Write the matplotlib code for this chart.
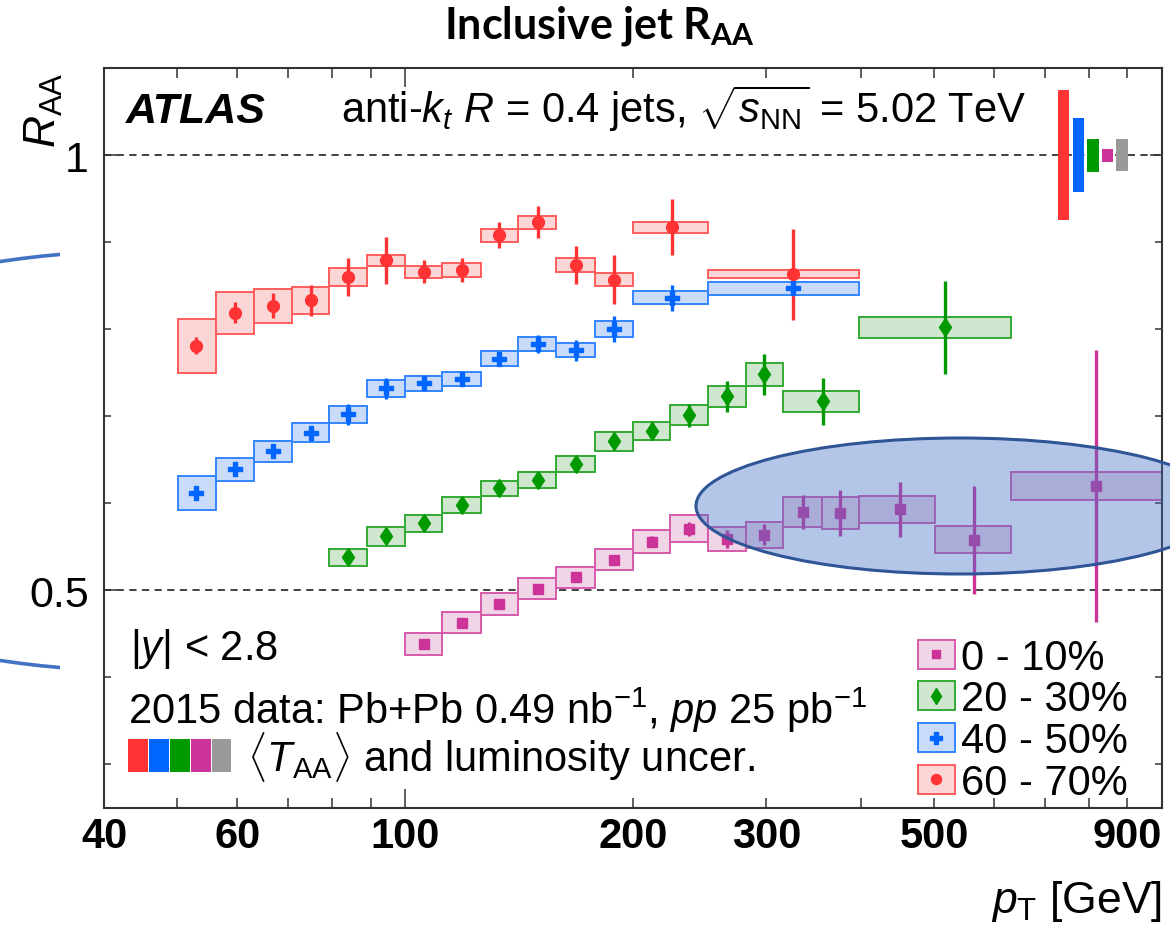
import numpy as np
import matplotlib
matplotlib.use('Agg')
import matplotlib.pyplot as plt
from matplotlib.patches import Rectangle, Ellipse, Patch
from matplotlib.lines import Line2D
from matplotlib.transforms import blended_transform_factory

plt.rcParams['font.family'] = ['Liberation Sans', 'DejaVu Sans']
plt.rcParams['mathtext.fontset'] = 'custom'
plt.rcParams['mathtext.rm'] = 'Liberation Sans'
plt.rcParams['mathtext.it'] = 'Liberation Sans:italic'
plt.rcParams['mathtext.bf'] = 'Liberation Sans:bold'

# ---- R_AA per centrality class: bin edges, marker pT, value, stat and sys (half box) ----
c0_edges = [100, 112, 126, 141, 158, 178, 200, 224, 251, 282, 316, 355, 398, 501, 631, 1000]
c0_pt = [106, 119, 133, 150, 168, 189, 212, 237, 266, 298, 335, 376, 450, 565, 817]
c0_raa = [0.438, 0.463, 0.484, 0.502, 0.515, 0.535, 0.556, 0.571, 0.559, 0.564, 0.590, 0.589, 0.593, 0.558, 0.620]
c0_stat = [0.004, 0.004, 0.004, 0.005, 0.005, 0.005, 0.006, 0.008, 0.010, 0.012, 0.019, 0.026, 0.032, 0.062, 0.156]
c0_sys = [0.0125, 0.012, 0.0125, 0.0125, 0.012, 0.012, 0.0135, 0.0155, 0.014, 0.015, 0.0175, 0.0185, 0.0155, 0.0155, 0.0165]

c20_edges = [79.4, 89.1, 100, 112, 126, 141, 158, 178, 200, 224, 251, 282, 316, 398, 631]
c20_pt = [84.1, 94.4, 106, 119, 133, 150, 168, 189, 212, 237, 266, 298, 357, 516]
c20_raa = [0.538, 0.562, 0.577, 0.598, 0.617, 0.627, 0.645, 0.671, 0.683, 0.701, 0.723, 0.748, 0.717, 0.802]
c20_stat = [0.005, 0.006, 0.006, 0.006, 0.006, 0.007, 0.007, 0.008, 0.010, 0.013, 0.018, 0.024, 0.027, 0.053]
c20_sys = [0.0095, 0.0105, 0.010, 0.009, 0.009, 0.009, 0.0095, 0.0105, 0.0105, 0.0115, 0.012, 0.0135, 0.0125, 0.0125]

c40_edges = [50.1, 56.2, 63.1, 70.8, 79.4, 89.1, 100, 112, 126, 141, 158, 178, 200, 251, 398]
c40_pt = [53.0, 59.6, 66.8, 75.0, 84.1, 94.4, 106, 119, 133, 150, 168, 189, 225, 325]
c40_raa = [0.612, 0.639, 0.660, 0.681, 0.702, 0.732, 0.738, 0.743, 0.766, 0.783, 0.776, 0.800, 0.836, 0.847]
c40_stat = [0.005, 0.006, 0.006, 0.006, 0.012, 0.012, 0.008, 0.007, 0.008, 0.010, 0.012, 0.015, 0.015, 0.005]
c40_sys = [0.0195, 0.0135, 0.012, 0.011, 0.0095, 0.0095, 0.0085, 0.008, 0.0085, 0.0075, 0.0085, 0.009, 0.0075, 0.0075]

c60_edges = [50.1, 56.2, 63.1, 70.8, 79.4, 89.1, 100, 112, 126, 141, 158, 178, 200, 251, 398]
c60_pt = [53.0, 59.6, 66.8, 75.0, 84.1, 94.4, 106, 119, 133, 150, 168, 189, 225, 325]
c60_raa = [0.781, 0.819, 0.827, 0.833, 0.860, 0.879, 0.866, 0.868, 0.908, 0.923, 0.874, 0.857, 0.917, 0.863]
c60_stat = [0.010, 0.012, 0.014, 0.018, 0.022, 0.027, 0.013, 0.014, 0.015, 0.018, 0.022, 0.028, 0.032, 0.052]
c60_sys = [0.031, 0.024, 0.0195, 0.016, 0.0105, 0.0065, 0.007, 0.0085, 0.0075, 0.0075, 0.008, 0.0075, 0.0065, 0.0045]

# <T_AA> and luminosity uncertainties around unity (60-70, 40-50, 20-30, 0-10, lumi)
global_unc = [0.075, 0.042, 0.019, 0.0075, 0.018]
global_colors = ['#ff3333', '#0066ff', '#009900', '#cc3399', '#999999']

centrality_labels = ['0 - 10%', '20 - 30%', '40 - 50%', '60 - 70%']

x_major_ticks = [100, 1000]
x_major_labels = ['100', '']
x_minor_ticks = [40, 50, 60, 70, 80, 90, 200, 300, 400, 500, 600, 700, 800, 900]
x_minor_labels = ['40', '', '60', '', '', '', '200', '300', '', '500', '', '', '', '900']
y_major_ticks = [0.5, 1.0]
y_major_labels = ['0.5', '1']

W, H = 1170, 937


def fx(px):
    return px / W


def fy(py):
    return 1 - py / H


fig = plt.figure(figsize=(W / 100, H / 100), dpi=100)
ax = fig.add_axes([fx(104), fy(809), (1162 - 104) / W, (809 - 69) / H])
ax.set_xscale('log')
ax.set_xlim(40, 1000)
ax.set_ylim(0.25, 1.1)

styles = [
    # edges, pt, raa, stat, sys, line color, box edge, fill, marker, size
    (c0_edges, c0_pt, c0_raa, c0_stat, c0_sys, '#cc3399', '#d65aaa', '#f0d5e7', 's', 6.5),
    (c20_edges, c20_pt, c20_raa, c20_stat, c20_sys, '#009900', '#33aa33', '#cfe7cf', 'd', 9.5),
    (c40_edges, c40_pt, c40_raa, c40_stat, c40_sys, '#0066ff', '#3385ff', '#c9dbf8', 'P', 9.5),
    (c60_edges, c60_pt, c60_raa, c60_stat, c60_sys, '#ff3333', '#ff5c5c', '#fad6d6', 'o', 8.5),
]

ax.axhline(1.0, color='#333333', lw=1.3, ls=(0, (4, 3)), zorder=1)
ax.axhline(0.5, color='#333333', lw=1.3, ls=(0, (4, 3)), zorder=1)

handles = []
for edges, pt, raa, stat, sys, col, ecol, fill, mk, ms in styles:
    edges = np.array(edges, dtype=float)
    raa = np.array(raa)
    sys = np.array(sys)
    ax.bar(edges[:-1], 2 * sys, width=np.diff(edges), bottom=raa - sys, align='edge',
           color=fill, edgecolor=ecol, linewidth=1.4, zorder=2)
    ax.errorbar(pt, raa, yerr=stat, fmt='none', ecolor=col, elinewidth=2.4, capsize=0, zorder=3)
    ax.plot(pt, raa, ls='none', marker=mk, ms=ms, color=col, mec=col, zorder=4)
    handles.append((Patch(facecolor=fill, edgecolor=ecol, linewidth=1.4),
                    Line2D([], [], ls='none', marker=mk, ms=ms * 0.85, color=col)))

# global uncertainty boxes at unity
trans = blended_transform_factory(ax.transAxes, ax.transData)
for i, (u, col) in enumerate(zip(global_unc, global_colors)):
    ax.add_patch(Rectangle((0.9017 + i * 0.0138, 1 - u), 0.0108, 2 * u, transform=trans,
                           facecolor=col, edgecolor='none', zorder=5))

# colour key for the <T_AA> line
for i, col in enumerate(global_colors):
    ax.add_patch(Rectangle((0.0227 + i * 0.0198, 0.0486), 0.0186, 0.0446, transform=ax.transAxes,
                           facecolor=col, edgecolor='none', zorder=5))

leg = ax.legend(handles, centrality_labels, loc='lower left', bbox_to_anchor=(0.769, 0.007),
                frameon=False, fontsize=30, handlelength=0.9, handleheight=0.7,
                handletextpad=0.15, labelspacing=0.04, borderpad=0.0, borderaxespad=0.0)

ax.set_xticks(x_major_ticks, x_major_labels, fontsize=30, fontweight='bold')
ax.set_xticks(x_minor_ticks, x_minor_labels, minor=True, fontsize=30, fontweight='bold')
ax.set_yticks(y_major_ticks, y_major_labels, fontsize=31)
ax.set_yticks([0.3, 0.4, 0.6, 0.7, 0.8, 0.9], minor=True)
ax.tick_params(which='both', direction='in', top=True, right=True, width=1.1, color='#333333')
ax.tick_params(axis='x', which='major', length=14, pad=6)
ax.tick_params(axis='x', which='minor', length=7, pad=6)
ax.tick_params(axis='y', which='major', length=9, pad=11)
ax.tick_params(axis='y', which='minor', length=5)
for s in ax.spines.values():
    s.set_linewidth(1.5)
    s.set_color('#333333')

# in-frame annotations
fig.text(fx(126), fy(123), 'ATLAS', fontsize=31, fontweight='bold', fontstyle='italic', va='baseline')
fig.text(fx(341), fy(123), r'anti-$k_t$ $R$ = 0.4 jets, $\sqrt{s_{\mathrm{NN}}}$ = 5.02 TeV',
         fontsize=30, va='baseline')
fig.text(fx(130), fy(660), r'|$y$| < 2.8', fontsize=30, va='baseline')
fig.text(fx(128), fy(724), r'2015 data: Pb+Pb 0.49 nb$^{-1}$, $pp$ 25 pb$^{-1}$', fontsize=30, va='baseline')
fig.text(fx(247), fy(772), r'$\langle T_{\mathrm{AA}}\rangle$ and luminosity uncer.', fontsize=30, va='baseline')

# axis titles
fig.text(fx(44), fy(72), r'$R_{\mathrm{AA}}$', fontsize=32, rotation=90, ha='center', va='top')
fig.text(fx(1162), fy(913), r'$p_{\mathrm{T}}$ [GeV]', fontsize=32, ha='right', va='baseline')

# slide title
fig.text(fx(599), fy(39), r'Inclusive jet R$_{\mathregular{AA}}$', family='Lato', fontweight='bold',
         fontsize=31, ha='center', va='baseline')

# highlight over the high-pT central points
highlight = Ellipse((fx(960), fy(507)), 528 / W, 136 / H, transform=fig.transFigure,
                    facecolor=(0x44 / 255, 0x72 / 255, 0xc4 / 255, 0.4), edgecolor='#2f5597',
                    linewidth=2.2, zorder=10)
fig.patches.append(highlight)

# edge of a second outline peeking in at the left margin
arc = Ellipse((fx(142), fy(462)), 908 / W, 420 / H, transform=fig.transFigure,
              facecolor='none', edgecolor='#4472c4', linewidth=2.6, zorder=10)
fig.patches.append(arc)
arc.set_clip_path(Rectangle((0, 0), fx(60), 1, transform=fig.transFigure))

fig.savefig('out.png', dpi=100)
